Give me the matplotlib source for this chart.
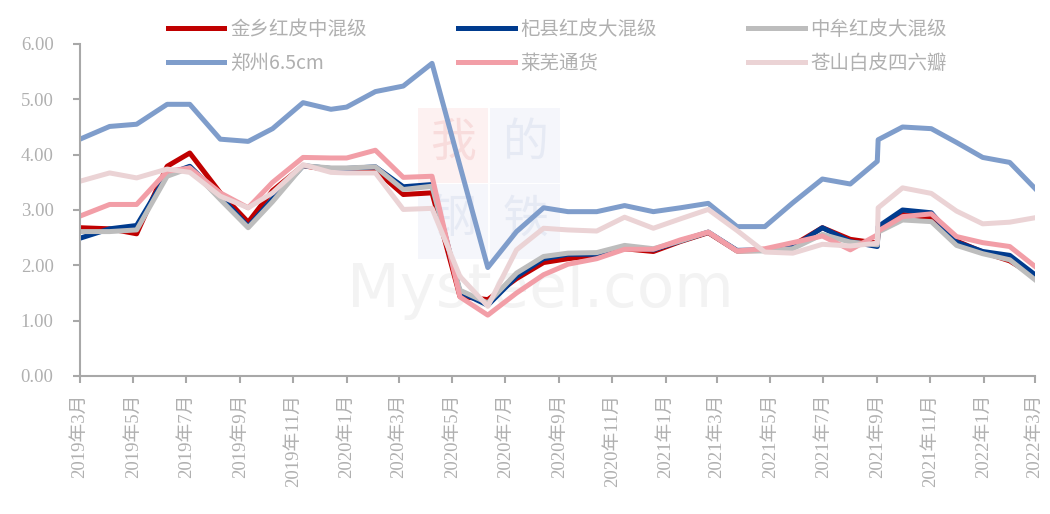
import matplotlib
matplotlib.use("Agg")
import matplotlib.pyplot as plt
from matplotlib.patches import Rectangle
import pandas as pd
import numpy as np

plt.rcParams['font.family'] = ['Liberation Serif', 'Noto Sans CJK SC', 'DejaVu Sans']

# observation dates (roughly monthly, two readings at the start of Sep 2021)
dates = pd.to_datetime([
    "2019-03-01", "2019-04-04", "2019-05-05", "2019-06-09", "2019-07-05", "2019-08-09",
    "2019-09-10", "2019-10-08", "2019-11-12", "2019-12-14", "2020-01-01", "2020-02-03",
    "2020-03-06", "2020-04-08", "2020-05-10", "2020-06-11", "2020-07-14", "2020-08-14",
    "2020-09-11", "2020-10-14", "2020-11-15", "2020-12-18", "2021-01-18", "2021-02-19",
    "2021-03-24", "2021-04-25", "2021-05-27", "2021-06-30", "2021-08-01", "2021-09-01",
    "2021-09-02", "2021-09-30", "2021-11-02", "2021-12-01", "2021-12-31", "2022-01-31",
    "2022-03-01",
])

jinxiang = [2.68, 2.66, 2.57, 3.79, 4.03, 3.31, 2.78, 3.35, 3.80, 3.72, 3.70, 3.72,
            3.28, 3.31, 1.44, 1.38, 1.76, 2.05, 2.12, 2.18, 2.30, 2.25, 2.43, 2.59,
            2.26, 2.27, 2.36, 2.68, 2.47, 2.40, 2.62, 2.92, 2.86, 2.44, 2.24, 2.08, 1.80]
qixian = [2.49, 2.66, 2.72, 3.64, 3.79, 3.25, 2.70, 3.20, 3.80, 3.75, 3.75, 3.78,
          3.42, 3.46, 1.52, 1.28, 1.80, 2.12, 2.20, 2.20, 2.34, 2.28, 2.44, 2.60,
          2.27, 2.28, 2.33, 2.68, 2.43, 2.34, 2.70, 3.00, 2.95, 2.42, 2.25, 2.18, 1.83]
zhongmou = [2.61, 2.61, 2.64, 3.61, 3.76, 3.19, 2.68, 3.15, 3.80, 3.76, 3.76, 3.78,
            3.37, 3.43, 1.55, 1.32, 1.86, 2.16, 2.22, 2.23, 2.36, 2.30, 2.44, 2.60,
            2.26, 2.26, 2.30, 2.56, 2.42, 2.37, 2.60, 2.82, 2.79, 2.36, 2.21, 2.10, 1.74]
zhengzhou = [4.28, 4.51, 4.55, 4.91, 4.91, 4.28, 4.24, 4.47, 4.94, 4.82, 4.86, 5.14,
             5.24, 5.65, 3.80, 1.96, 2.61, 3.04, 2.97, 2.97, 3.08, 2.97, 3.04, 3.12,
             2.70, 2.70, 3.13, 3.56, 3.47, 3.88, 4.27, 4.50, 4.47, 4.22, 3.95, 3.86, 3.39]
laiwu = [2.89, 3.10, 3.10, 3.70, 3.76, 3.31, 3.04, 3.50, 3.95, 3.94, 3.94, 4.08,
         3.59, 3.61, 1.43, 1.10, 1.50, 1.83, 2.02, 2.12, 2.29, 2.29, 2.46, 2.60,
         2.26, 2.30, 2.41, 2.53, 2.28, 2.55, 2.62, 2.88, 2.93, 2.52, 2.41, 2.34, 1.98]
cangshan = [3.52, 3.67, 3.58, 3.74, 3.68, 3.25, 3.04, 3.31, 3.82, 3.68, 3.67, 3.67,
            3.01, 3.03, 1.80, 1.26, 2.28, 2.67, 2.64, 2.62, 2.87, 2.67, 2.84, 3.01,
            2.63, 2.24, 2.22, 2.38, 2.35, 2.40, 3.04, 3.40, 3.30, 2.98, 2.75, 2.78, 2.86]

series = [
    ("金乡红皮中混级", jinxiang, "#C00000"),
    ("杞县红皮大混级", qixian, "#003B8E"),
    ("中牟红皮大混级", zhongmou, "#BDBDBD"),
    ("郑州6.5cm", zhengzhou, "#7F9DCB"),
    ("莱芜通货", laiwu, "#F29EA7"),
    ("苍山白皮四六瓣", cangshan, "#EBD3D5"),
]

fig = plt.figure(figsize=(10.5, 5.14), dpi=100)
ax = fig.add_axes([80 / 1050, 1 - 376 / 514, 955 / 1050, 332 / 514])

# faint watermark, kept behind the lines
wm = dict(transform=fig.transFigure, zorder=0.5, clip_on=False)
for (x0, y0, c, tc, ch) in [(418, 108, "#FDF1F1", "#F8DCDC", "我"),
                            (490, 108, "#F5F6FB", "#E6EAF4", "的"),
                            (418, 184, "#F5F6FB", "#E6EAF4", "钢"),
                            (490, 184, "#F5F6FB", "#E6EAF4", "铁")]:
    ax.add_patch(Rectangle((x0 / 1050, 1 - (y0 + 75) / 514), 70 / 1050, 75 / 514,
                           facecolor=c, edgecolor="none", **wm))
    ax.text((x0 + 35) / 1050, 1 - (y0 + 35) / 514, ch, color=tc, fontsize=33,
            ha="center", va="center", family=["Noto Sans CJK SC"], **wm)
ax.text(540 / 1050, 1 - 290 / 514, "Mysteel.com", color="#F3F3F3", fontsize=44,
        ha="center", va="center", family=["DejaVu Sans"], **wm)

for name, vals, col in series:
    ax.plot(dates, vals, color=col, lw=3.6, label=name, zorder=2)

ax.set_ylim(0, 6)
ax.set_yticks(np.arange(0, 7, 1))
ax.yaxis.set_major_formatter(matplotlib.ticker.FormatStrFormatter("%.2f"))

ax.set_xlim(pd.Timestamp("2019-03-01"), pd.Timestamp("2022-03-01"))
ticks = pd.date_range("2019-03-01", "2022-03-01", freq="2MS")
ax.set_xticks(ticks)
ax.set_xticklabels([f"{d.year}年{d.month}月" for d in ticks], rotation=90)

grey = "#A8A8A8"
for s in ["top", "right"]:
    ax.spines[s].set_visible(False)
for s in ["left", "bottom"]:
    ax.spines[s].set_color(grey)
    ax.spines[s].set_linewidth(1.5)
ax.tick_params(axis="both", colors=grey, labelcolor="#B0B0B0", width=1.5, length=5,
               labelsize=13.5, direction="out")
ax.tick_params(axis="y", pad=14)
ax.tick_params(axis="x", pad=8)

# legend filled row by row like the reference (matplotlib fills by column)
handles, labels = ax.get_legend_handles_labels()
order = [0, 3, 1, 4, 2, 5]
fig.legend([handles[i] for i in order], [labels[i] for i in order],
           loc="upper left", bbox_to_anchor=(168 / 1050, 1 - 19 / 514), ncol=3,
           frameon=False, handlelength=2.9, handletextpad=0.3,
           columnspacing=4.7, labelspacing=0.65, borderaxespad=0, borderpad=0,
           labelcolor="#B0B0B0",
           prop={"family": ["Noto Sans CJK SC", "DejaVu Sans"], "size": 14})

fig.savefig("out.png", dpi=100)
